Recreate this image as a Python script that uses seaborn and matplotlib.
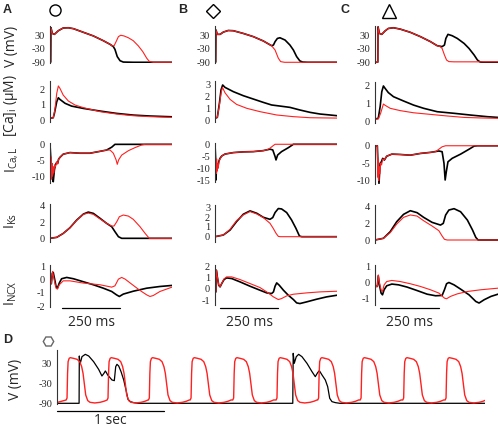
import matplotlib
matplotlib.use('Agg')
import matplotlib.pyplot as plt
import seaborn as sns
from matplotlib.lines import Line2D
from matplotlib.transforms import blended_transform_factory

W, H = 498, 428

# ---- traces: (time in ms, value) ----
# column A
a_v_black = [(-5, -90), (-2, -89), (-0.7, 62), (5, 37), (14, 33), (31, 49), (52, 61), (74, 62), (96, 58),
             (139, 42), (182, 26), (225, 5), (254, -11), (268, -21), (275, -33), (285, -65), (297, -83),
             (311, -89), (354, -90), (521, -90)]
a_v_red = [(-5, -90), (-2, -89), (-0.7, 62), (5, 37), (14, 33), (31, 49), (52, 61), (74, 62), (96, 58),
           (139, 42), (182, 26), (225, 5), (254, -11), (261, -17), (271, -18), (280, 1), (290, 23), (300, 29),
           (314, 26), (333, 18), (354, 5), (376, -18), (395, -43), (412, -72), (423, -86), (440, -90), (521, -90)]
a_ca_black = [(-5, 0.11), (9, 0.15), (14, 0.43), (24, 1.18), (31, 1.44), (38, 1.33), (60, 1.08), (88, 0.9),
              (139, 0.75), (211, 0.58), (282, 0.43), (354, 0.32), (426, 0.26), (521, 0.21)]
a_ca_red = [(-5, 0.11), (9, 0.15), (16, 0.65), (24, 1.72), (31, 2.2), (38, 2.04), (52, 1.61), (74, 1.23),
            (103, 0.97), (139, 0.8), (211, 0.54), (282, 0.39), (354, 0.28), (426, 0.22), (521, 0.17)]
a_ical_black = [(-5, 0), (-2, -3.9), (0.7, -7), (3, -9.5), (6.5, -10.2), (9, -11.8), (14, -8.1), (18, -6.5),
                (24, -5.7), (28, -6), (32, -4.7), (38, -4.1), (52, -3.1), (81, -2.6), (124, -2.8), (167, -2.8),
                (211, -2.2), (239, -1.8), (261, -0.9), (275, 0), (521, 0)]
a_ical_red = [(-5, 0), (-2, -8), (0, -4), (2, -11), (4, -6), (6, -10), (9, -7), (12, -9), (15, -6.5), (19, -7),
              (24, -5.5), (28, -6.2), (32, -4.7), (38, -4.1), (52, -3.1), (81, -2.6), (124, -2.8), (167, -2.8),
              (211, -2.2), (239, -1.8), (254, -1.8), (268, -2.8), (280, -4.9), (285, -6.3), (291, -4.9),
              (304, -3.4), (333, -2.0), (361, -1.05), (390, -0.2), (405, 0), (521, 0)]
a_iks_black = [(-5, 0), (24, 0.12), (52, 0.6), (81, 1.3), (110, 2.24), (139, 2.98), (160, 3.22), (182, 3.06),
               (211, 2.45), (239, 1.84), (261, 1.43), (275, 0.82), (290, 0.2), (304, 0), (521, 0)]
a_iks_red = [(-5, 0), (24, 0.12), (52, 0.6), (81, 1.3), (110, 2.2), (139, 2.95), (160, 3.1), (182, 2.94),
             (211, 2.37), (239, 1.84), (261, 1.51), (271, 1.51), (283, 2.04), (294, 2.65), (311, 2.86),
             (333, 2.73), (354, 2.33), (383, 1.43), (405, 0.61), (423, 0), (521, 0)]
a_incx_black = [(-5, -0.25), (0.7, -0.3), (5, 0.5), (9, 0.56), (14, 0.13), (21, -0.5), (27, -0.64), (35, -0.25),
                (45, 0.08), (67, 0.18), (96, 0.08), (139, -0.15), (182, -0.38), (225, -0.64), (261, -0.89),
                (282, -1.15), (294, -1.27), (311, -1.09), (354, -0.87), (412, -0.64), (469, -0.51), (521, -0.43)]
a_incx_red = [(-5, -0.25), (0.7, -0.3), (6, 0.64), (13, 0), (21, -0.64), (27, -0.71), (35, -0.38), (52, -0.08),
              (81, -0.08), (139, -0.25), (211, -0.38), (261, -0.56), (275, -0.46), (290, 0.05), (304, 0.18),
              (319, 0.05), (347, -0.33), (383, -0.81), (412, -1.15), (426, -1.27), (440, -1.2), (469, -0.89),
              (521, -0.56)]

# column B
b_v_black = [(-5, -90), (-2, -89), (-0.7, 52), (5, 33), (17, 33), (31, 43), (52, 50), (74, 49), (117, 37),
             (160, 23), (203, 4), (239, -17), (247, -14), (254, 1), (264, 15), (275, 18), (297, 8), (318, -14),
             (333, -36), (347, -65), (361, -84), (373, -89), (395, -90), (521, -90)]
b_v_red = [(-5, -90), (-2, -89), (-0.7, 52), (5, 33), (17, 33), (31, 43), (52, 50), (74, 49), (117, 37),
           (160, 23), (203, 4), (239, -17), (254, -36), (268, -72), (278, -87), (295, -90), (521, -90)]
b_ca_black = [(-5, 0.2), (5, 0.28), (14, 1.46), (21, 2.58), (28, 3.0), (38, 2.8), (74, 2.44), (117, 2.1),
              (160, 1.82), (203, 1.54), (239, 1.32), (275, 1.23), (318, 1.12), (361, 0.9), (405, 0.7),
              (448, 0.56), (491, 0.48), (521, 0.42)]
b_ca_red = [(-5, 0.2), (5, 0.28), (14, 1.32), (21, 2.3), (27, 2.8), (38, 2.35), (60, 1.79), (88, 1.37),
            (132, 1.04), (189, 0.76), (261, 0.48), (333, 0.34), (405, 0.25), (521, 0.22)]
b_ical_black = [(-5, 0), (-2, -6.4), (-0.7, -14.6), (2, -7.8), (6.5, -9.8), (11, -7.1), (17, -5.7), (24, -4.8),
                (38, -4.0), (74, -3.4), (117, -3.1), (160, -3.0), (203, -2.6), (232, -2.0), (244, -2.3),
                (254, -5.0), (258, -6.4), (265, -4.4), (282, -3.0), (311, -1.4), (333, 0), (521, 0)]
b_ical_red = [(-5, 0), (-2, -9), (0, -12), (2, -6), (4, -11), (6.5, -8), (9, -9.5), (13, -6.5), (17, -6),
              (24, -4.8), (38, -4.0), (74, -3.4), (117, -3.1), (160, -3.0), (203, -2.6), (218, -2.3),
              (232, -1.6), (246, -0.55), (254, 0), (521, 0)]
b_iks_black = [(-5, 0), (31, 0.17), (60, 0.68), (88, 1.54), (117, 2.29), (146, 2.63), (175, 2.39), (203, 1.98),
               (232, 1.77), (244, 1.95), (254, 2.46), (268, 2.87), (282, 2.83), (304, 2.46), (325, 1.71),
               (344, 0.85), (359, 0.07), (369, 0), (521, 0)]
b_iks_red = [(-5, 0), (31, 0.17), (60, 0.75), (88, 1.64), (117, 2.22), (146, 2.56), (175, 2.32), (203, 1.95),
             (232, 1.37), (246, 0.85), (258, 0.35), (268, 0.03), (278, 0), (521, 0)]
b_incx_black = [(-5, -0.27), (-1, -0.27), (0.7, 1.68), (5, 1.08), (11, 0.33), (17, 0.18), (24, 0.48), (34, 0.84),
                (45, 0.99), (67, 0.93), (103, 0.63), (146, 0.24), (189, -0.12), (218, -0.36), (239, -0.42),
                (247, -0.27), (254, 0.24), (261, 0.54), (272, 0.33), (290, -0.12), (311, -0.57), (333, -0.96),
                (347, -1.26), (361, -1.32), (390, -1.17), (433, -0.93), (476, -0.72), (521, -0.57)]
b_incx_red = [(-5, -0.27), (-1, -0.27), (0.7, 1.7), (5, 1.1), (11, 0.35), (17, 0.2), (24, 0.5), (34, 0.9),
              (45, 1.08), (67, 1.08), (103, 0.84), (146, 0.48), (189, 0.12), (218, -0.27), (247, -0.72),
              (268, -0.96), (282, -0.87), (304, -0.63), (333, -0.48), (390, -0.36), (448, -0.27), (521, -0.21)]

# column C
c_v_black = [(-5, -90), (5, -90), (7, -89), (8, 66), (14, 37), (24, 33), (38, 48), (52, 59), (74, 62), (103, 56),
             (146, 42), (189, 23), (232, 1), (261, -17), (282, -21), (292, -14), (298, 15), (307, 33), (325, 27),
             (347, 15), (376, -7), (397, -29), (419, -58), (433, -80), (445, -89), (460, -90), (521, -90)]
c_v_red = [(-5, -90), (5, -90), (7, -89), (8, 66), (14, 37), (24, 33), (38, 48), (52, 59), (74, 62), (103, 56),
           (146, 42), (189, 23), (232, 1), (261, -17), (272, -20), (282, -29), (292, -58), (301, -80),
           (311, -87), (333, -88), (521, -88)]
c_ca_black = [(-5, 0.15), (9, 0.19), (17, 0.84), (24, 1.68), (31, 2.0), (38, 1.87), (52, 1.63), (74, 1.4),
              (117, 1.16), (160, 0.93), (203, 0.75), (261, 0.56), (333, 0.47), (405, 0.37), (476, 0.28),
              (521, 0.24)]
c_ca_red = [(-5, 0.15), (9, 0.15), (19, 0.47), (31, 0.99), (38, 0.92), (60, 0.75), (103, 0.62), (160, 0.5),
            (232, 0.41), (304, 0.32), (376, 0.24), (448, 0.21), (521, 0.19)]
c_ical_black = [(-5, 0), (5, 0), (8, -6), (12, -10.8), (17, -5), (22, -4.6), (28, -3.6), (35, -4.1), (45, -3.0),
                (67, -2.4), (103, -2.5), (146, -2.7), (189, -2.2), (232, -1.9), (268, -1.5), (282, -1.7),
                (290, -5), (295, -9.8), (300, -7.4), (307, -4.6), (325, -3.6), (361, -2.4), (397, -1.0),
                (419, -0.1), (433, 0), (521, 0)]
c_ical_red = [(-5, 0), (5, 0), (7, -9), (9, -4), (11, -10), (13, -6), (16, -8), (19, -5), (23, -5.5), (28, -3.8),
              (35, -4.0), (45, -3.0), (67, -2.4), (103, -2.5), (146, -2.7), (189, -2.2), (232, -1.9),
              (254, -1.7), (268, -1.0), (282, -0.3), (297, 0), (521, 0)]
c_iks_black = [(-5, 0), (31, 0.2), (60, 0.98), (88, 2.16), (117, 3.02), (146, 3.45), (175, 3.22), (203, 2.67),
               (239, 2.08), (275, 1.76), (287, 1.96), (297, 2.94), (311, 3.53), (333, 3.69), (361, 3.33),
               (390, 2.35), (412, 1.18), (426, 0.31), (436, 0), (521, 0)]
c_iks_red = [(-5, 0), (31, 0.2), (60, 0.86), (88, 1.88), (117, 2.67), (146, 2.95), (175, 2.82), (203, 2.27),
             (239, 1.65), (268, 1.1), (282, 0.47), (292, 0.08), (304, 0), (521, 0)]
c_incx_black = [(-5, -0.25), (5, -0.25), (9, 0.42), (14, -0.15), (21, -0.67), (27, -0.78), (34, -0.46),
                (45, -0.21), (67, -0.1), (96, -0.15), (132, -0.29), (175, -0.51), (218, -0.74), (254, -0.84),
                (282, -0.82), (292, -0.46), (301, -0.08), (311, 0.0), (333, -0.15), (361, -0.42), (397, -0.78),
                (426, -1.2), (440, -1.3), (462, -1.09), (491, -0.88), (521, -0.74)]
c_incx_red = [(-5, -0.25), (5, -0.25), (9, 0.48), (14, -0.04), (21, -0.46), (27, -0.57), (34, -0.15), (45, 0.06),
              (67, 0.13), (103, 0.06), (146, -0.08), (189, -0.25), (232, -0.46), (268, -0.67), (292, -0.99),
              (301, -1.03), (318, -0.88), (347, -0.72), (390, -0.57), (448, -0.46), (521, -0.36)]

# panel D: black trace, and red AP shape + onset times of each red beat
d_black = [(0, -90), (207, -90), (209, 52), (212, 40), (218, 30), (234, 50), (265, 57), (297, 52), (343, 35),
           (390, 12), (421, -8), (440, 0), (453, 7), (463, 2), (475, -5), (515, -20), (537, -22), (550, 20),
           (562, 27), (578, 22), (600, 5), (625, -20), (650, -55), (665, -78), (687, -85), (718, -88), (760, -90),
           (2209, -90), (2213, 60), (2223, 30), (2242, 50), (2264, 57), (2295, 50), (2342, 30), (2389, 5),
           (2420, -10), (2442, 2), (2458, 8), (2483, -5), (2514, -20), (2536, -40), (2555, -75), (2576, -85),
           (2608, -88), (2650, -90), (4010, -90)]
d_red_beat = [(-8, -80), (0, -74), (5, 0), (10, 35), (20, 45), (31, 47), (60, 45), (94, 42), (119, 35),
              (137, 20), (150, 0), (162, -30), (175, -65), (194, -82), (215, -87), (260, -89), (310, -87),
              (345, -84), (375, -80)]
d_red_onsets = [94, 478, 865, 1256, 1655, 2061, 2451, 2849, 3248, 3645]

col_left = [50, 215, 375]
col_right = [172, 337, 498]
row_names = ['V (mV)', r'[Ca]$_\mathregular{i}$ (μM)', r'I$_\mathregular{Ca,L}$', r'I$_\mathregular{Ks}$',
             r'I$_\mathregular{NCX}$']
label_y = [46, 106, 160, 221, 293]
# (top px, bottom px, ylim, yticks) for every row in every column
rows_a = [(26.4, 63.2, (-94, 68), [30, -30, -90]), (81.3, 121.6, (-0.1, 2.5), [0, 1, 2]),
          (143.4, 183.0, (-12.2, 0.3), [0, -5, -10]), (204.1, 242.4, (-0.5, 4.2), [0, 2, 4]),
          (264.7, 306.7, (-2.05, 1.15), [1, 0, -1, -2])]
rows_b = [(26.4, 63.2, (-94, 68), [30, -30, -90]), (81.4, 121.9, (-0.1, 3.3), [0, 1, 2, 3]),
          (143.3, 182.2, (-15.5, 0.4), [0, -5, -10, -15]), (205.3, 241.6, (-0.5, 3.2), [0, 1, 2, 3]),
          (265.0, 305.0, (-1.45, 2.15), [2, 1, 0, -1])]
rows_c = [(26.4, 63.2, (-94, 68), [30, -30, -90]), (82.4, 122.6, (-0.05, 2.2), [0, 1, 2]),
          (144.7, 184.2, (-11, 0.3), [0, -5, -10]), (205.2, 243.4, (-0.4, 4.1), [0, 2, 4]),
          (265.1, 305.4, (-1.45, 1.1), [1, 0, -1])]

traces = [
    [(a_v_black, a_v_red), (a_ca_black, a_ca_red), (a_ical_black, a_ical_red), (a_iks_black, a_iks_red),
     (a_incx_black, a_incx_red)],
    [(b_v_black, b_v_red), (b_ca_black, b_ca_red), (b_ical_black, b_ical_red), (b_iks_black, b_iks_red),
     (b_incx_black, b_incx_red)],
    [(c_v_black, c_v_red), (c_ca_black, c_ca_red), (c_ical_black, c_ical_red), (c_iks_black, c_iks_red),
     (c_incx_black, c_incx_red)],
]

sns.set_style('white')
plt.rcParams['font.family'] = ['Open Sans', 'DejaVu Sans']
plt.rcParams['axes.unicode_minus'] = False
plt.rcParams['mathtext.default'] = 'regular'

RED = '#ff2020'
fig = plt.figure(figsize=(W / 100, H / 100), dpi=100)


def px_axes(left, top, right, bottom):
    return fig.add_axes([left / W, 1 - bottom / H, (right - left) / W, (bottom - top) / H])


def style(ax, xlim, ylim, yticks):
    ax.set_xlim(*xlim)
    ax.set_ylim(*ylim)
    ax.set_xticks([])
    ax.set_yticks(yticks)
    ax.set_yticklabels([str(v) for v in yticks], fontfamily='Liberation Serif', fontsize=7.5)
    for s in ['top', 'right', 'bottom']:
        ax.spines[s].set_visible(False)
    ax.spines['left'].set_color('#333333')
    ax.spines['left'].set_linewidth(0.8)
    ax.tick_params(axis='y', length=2.5, width=0.8, color='#333333', pad=1)
    ax.set_xlabel('')
    ax.set_ylabel('')
    ax.patch.set_alpha(0)


def draw(ax, pts, color, lw):
    t, v = zip(*pts)
    sns.lineplot(x=list(t), y=list(v), ax=ax, color=color, linewidth=lw, estimator=None, sort=False,
                 legend=False)


all_rows = [rows_a, rows_b, rows_c]
for c in range(3):
    for r in range(5):
        top, bottom, ylim, yticks = all_rows[c][r]
        ax = px_axes(col_left[c], top, col_right[c], bottom)
        black, red = traces[c][r]
        draw(ax, black, 'black', 1.2)
        draw(ax, red, RED, 0.8)
        style(ax, (-5, 521), ylim, yticks)
        if r == 4:
            tr = blended_transform_factory(ax.transData, fig.transFigure)
            t0 = 47 if c == 0 else 17
            ax.plot([t0, t0 + 250], [1 - 308 / H] * 2, color='black', lw=0.9, transform=tr, clip_on=False)
            ax.text(t0 + 125, 1 - 322 / H, '250 ms', transform=tr, ha='center', va='center', fontsize=10)

for name, y in zip(row_names, label_y):
    fig.text(11 / W, 1 - y / H, name, rotation=90, ha='center', va='center', fontsize=10)

# panel D
axd = px_axes(57, 350, 485, 404.3)
d_red = [(-5, -88)]
for onset in d_red_onsets:
    d_red += [(onset + dt, v) for dt, v in d_red_beat]
draw(axd, d_black, 'black', 0.9)
draw(axd, d_red, RED, 1.0)
style(axd, (0, 4010), (-93, 70), [30, -30, -90])
trd = blended_transform_factory(axd.transData, fig.transFigure)
axd.plot([0, 1000], [1 - 411 / H] * 2, color='black', lw=0.9, transform=trd, clip_on=False)
axd.text(500, 1 - 421 / H, '1 sec', transform=trd, ha='center', va='center', fontsize=10)
fig.text(15 / W, 1 - 379 / H, 'V (mV)', rotation=90, ha='center', va='center', fontsize=10)

# panel letters and symbols
for letter, x, y in [('A', 3, 13), ('B', 178, 13), ('C', 340, 13), ('D', 3, 343)]:
    fig.text(x / W, 1 - y / H, letter, fontweight='bold', fontsize=9, fontfamily='Liberation Sans')
for marker, x, y, ms, col in [('o', 55, 10, 8, 'black'), ('D', 213, 10.5, 7, 'black'),
                              ('^', 389, 10.5, 9.5, 'black'), ('H', 48, 341, 7.5, '#666666')]:
    fig.add_artist(Line2D([x / W], [1 - y / H], marker=marker, markersize=ms, markerfacecolor='none',
                          markeredgecolor=col, markeredgewidth=1.0, transform=fig.transFigure))

fig.savefig('out.png', dpi=100)
